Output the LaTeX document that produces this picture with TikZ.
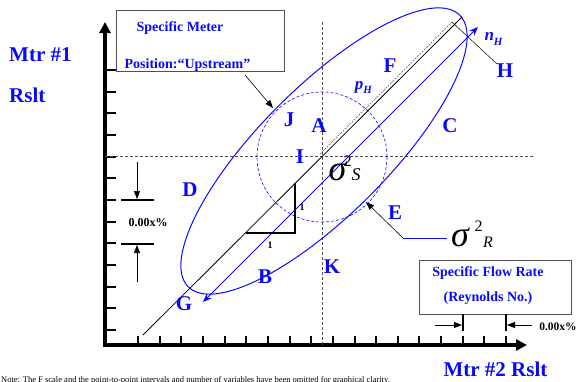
\documentclass[tikz,border=0pt]{standalone}
\usepackage{fontspec}
\setmainfont{Liberation Serif}
\usetikzlibrary{arrows.meta}
\definecolor{lblue}{RGB}{10,10,250}
\definecolor{dgray}{RGB}{80,80,80}
\begin{document}
\begin{tikzpicture}[x=1pt,y=-1pt,
  lbl/.style={text=lblue,font=\fontsize{21}{24}\selectfont\bfseries,inner sep=0pt},
  boxtxt/.style={text=lblue,font=\fontsize{14}{16}\selectfont\bfseries,inner sep=0pt},
  pct/.style={text=black,font=\fontsize{12}{14}\selectfont\bfseries,inner sep=0pt},
  sigbig/.style={font=\fontsize{36}{38}\selectfont\itshape,inner sep=0pt},
  sigsub/.style={font=\fontsize{16}{18}\selectfont,inner sep=0pt},
  axis/.style={line width=3.5pt},
  tickmark/.style={line width=2pt},
  grayd/.style={dgray,line width=0.7pt,dash pattern=on 3pt off 2pt},
  blk/.style={-{Triangle[length=8pt,width=6pt]},line width=0.6pt},
  framebox/.style={draw=dgray,line width=0.9pt,inner sep=0pt}
]
\useasboundingbox (0,0) rectangle (580,381);

% axes
\coordinate (O) at (105,345);
\coordinate (ytop) at (105,22);
\coordinate (xend) at (527,345);
\draw[axis,-{Triangle[length=11pt,width=11pt]}] (105,346.75) -- (ytop);
\draw[axis,-{Triangle[length=11pt,width=11pt]}] (O) -- (xend);
\foreach \k in {0,...,12} \draw[tickmark] (105,{330-21.667*\k}) -- (116,{330-21.667*\k});
\foreach \k in {0,...,17} \draw[tickmark] ({138+21.65*\k},345) -- ({138+21.65*\k},336);

% dashed cross
\coordinate (hl) at (105,156);
\coordinate (hr) at (533,156);
\coordinate (vt) at (322,22);
\coordinate (vb) at (322,345);
\draw[grayd] (hl) -- (hr);
\draw[grayd] (vt) -- (vb);

% ellipse and circle
\coordinate (ec) at (324,151);
\draw[lblue,line width=1pt,rotate around={45:(ec)}] (ec) ellipse [x radius=192, y radius=64];
\coordinate (cc) at (322,157);
\draw[lblue,line width=0.6pt,dash pattern=on 3pt off 2pt] (cc) circle [radius=65];

% diagonal lines
\coordinate (d1) at (143,335);
\coordinate (d2) at (462,17);
\draw[line width=0.8pt] (d1) -- (d2);
\coordinate (p1) at (320,154);
\coordinate (p2) at (452,22);
\coordinate (hh) at (497,64);
\draw[grayd,line width=0.5pt,dash pattern=on 2pt off 1.2pt] (p1) -- (p2);
\draw[line width=0.5pt] (p2) -- (hh);
\coordinate (g1) at (203,302);
\coordinate (g2) at (478,27);
\draw[lblue,line width=1pt,{Stealth[length=9pt,width=7pt]}-{Stealth[length=9pt,width=7pt]}] (g1) -- (g2);

% unit triangle
\coordinate (t1) at (246,233);
\coordinate (t2) at (295,233);
\coordinate (t3) at (295,183);
\draw[line width=1.6pt] (t1) -- (t2) -- (t3);
\node[font=\fontsize{10}{11}\selectfont\bfseries,inner sep=0pt] (one1) at (270,245) {1};
\node[font=\fontsize{10}{11}\selectfont\bfseries,inner sep=0pt] (one2) at (302,207) {1};

% axis titles
\node[lbl,anchor=west] (m1) at (9,55) {Mtr \#1};
\node[lbl,anchor=west] (r1) at (9,95) {Rslt};
\node[lbl] (m2) at (495.5,369) {Mtr \#2 Rslt};

% meter box
\node[framebox,minimum width=168pt,minimum height=61pt] (mbox) at (200,40.5) {};
\node[boxtxt] (mb1) at (180,28) {Specific Meter};
\node[boxtxt] (mb2) at (187.5,65) {Position:“Upstream”};
\coordinate (ma1) at (245,75);
\coordinate (ma2) at (273,108);
\draw[blk] (ma1) -- (ma2);

% left dimension
\coordinate (la1) at (121,200); \coordinate (la2) at (154,200);
\coordinate (lb1) at (121,244); \coordinate (lb2) at (154,244);
\draw[line width=1.6pt] (la1) -- (la2);
\draw[line width=1.6pt] (lb1) -- (lb2);
\coordinate (lt) at (137,162); \coordinate (ltb) at (137,199);
\coordinate (lu) at (137,282); \coordinate (lub) at (137,245);
\draw[blk] (lt) -- (ltb);
\draw[blk] (lu) -- (lub);
\node[pct] (lpct) at (148,223) {0.00x\%};

% flow box
\node[framebox,minimum width=152pt,minimum height=54pt] (fbox) at (495,287) {};
\node[boxtxt] (fb1) at (488,273) {Specific Flow Rate};
\node[boxtxt] (fb2) at (488,298) {(Reynolds No.)};
\coordinate (fv1) at (463,314); \coordinate (fv1b) at (463,331);
\coordinate (fv2) at (506,314); \coordinate (fv2b) at (506,331);
\draw[line width=1.6pt] (fv1) -- (fv1b);
\draw[line width=1.6pt] (fv2) -- (fv2b);
\coordinate (fa1) at (435,325); \coordinate (fa1b) at (462,325);
\coordinate (fa2) at (532,325); \coordinate (fa2b) at (507,325);
\draw[blk,line width=0.9pt] (fa1) -- (fa1b);
\draw[blk,line width=0.9pt] (fa2) -- (fa2b);
\node[pct,font=\fontsize{11.5}{13}\selectfont\bfseries] (rpct) at (558,327) {0.00x\%};

% sigma R leader
\coordinate (sr1) at (447,238);
\coordinate (sr2) at (403,238);
\coordinate (sr3) at (366,202);
\draw[lblue,line width=0.8pt] (sr1) -- (sr2);
\draw[blk] (sr2) -- (sr3);

% sigma labels
\node[sigbig] (sigS) at (337.5,171.5) {σ};
\node[sigsub] (sigS2) at (347.5,161) {2};
\node[sigsub,font=\fontsize{18}{20}\selectfont\itshape] (sigSS) at (356,175) {S};
\node[sigbig] (sigR) at (460,237.5) {σ};
\node[sigsub] (sigR2) at (478.5,226.5) {2};
\node[sigsub,font=\fontsize{16}{18}\selectfont\itshape] (sigRR) at (488,242) {R};

% region letters
\node[lbl] (lF) at (390,66) {F};
\node[lbl] (lH) at (505,71) {H};
\node[lbl] (lC) at (450,126) {C};
\node[lbl] (lJ) at (289,120) {J};
\node[lbl] (lA) at (319,126) {A};
\node[lbl] (lI) at (300,157) {I};
\node[lbl] (lD) at (190,190) {D};
\node[lbl] (lE) at (395,213) {E};
\node[lbl] (lK) at (332,267) {K};
\node[lbl] (lB) at (265,277) {B};
\node[lbl] (lG) at (184,304) {G};
\node[text=lblue,inner sep=0pt,font=\fontsize{17}{18}\selectfont\bfseries\itshape] (pH) at (363.5,87.5) {p\raisebox{-3.5pt}{\fontsize{11}{12}\selectfont H}};
\node[text=lblue,inner sep=0pt,font=\fontsize{17}{18}\selectfont\bfseries\itshape] (nH) at (493.5,38.5) {n\raisebox{-5pt}{\fontsize{11}{12}\selectfont H}};

% note (cut off at the lower edge, as in the reference)
\node[anchor=base west,inner sep=0pt,font=\fontsize{8.5}{9}\selectfont] (note) at (1,382.5) {Note: The F scale and the point-to-point intervals and number of variables have been omitted for graphical clarity.};
\end{tikzpicture}
\end{document}
